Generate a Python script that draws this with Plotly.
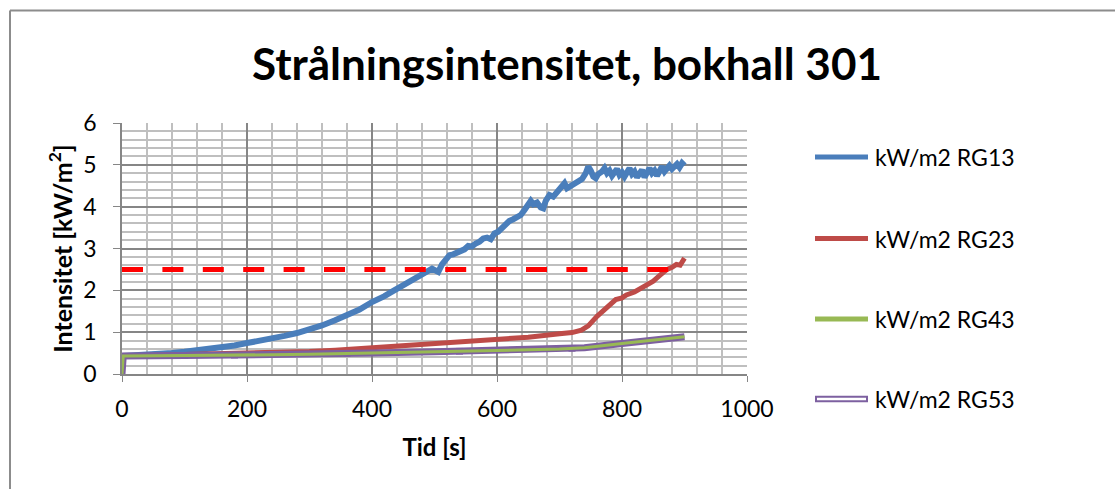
import plotly.graph_objects as go

# ---------------- data ----------------
t_rg13 = [0, 20, 40, 60, 80, 100, 120, 140, 160, 180, 200, 220, 240, 260, 280, 300,
          320, 340, 360, 380, 400, 410, 420, 430, 440, 450, 460, 470,
          480, 488, 496, 502, 506, 512, 518, 524, 530, 536, 542, 548, 554, 560, 566,
          572, 578, 584, 590, 596, 602, 608, 614, 620, 626, 632, 638, 644, 650, 654,
          658, 664, 670, 674, 678, 684, 690, 696, 702, 708, 712, 718, 724, 730, 736,
          742, 746, 750, 754, 758, 762, 768, 772, 776, 780, 784, 788, 792, 796, 800,
          804, 808, 812, 816, 820, 824, 828, 832, 836, 840, 844, 848, 852, 856, 860,
          864, 868, 872, 876, 880, 884, 888, 892, 896, 900]
v_rg13 = [0.43, 0.44, 0.45, 0.47, 0.50, 0.53, 0.56, 0.60, 0.64, 0.68, 0.74, 0.79, 0.85,
          0.91, 0.98, 1.06, 1.16, 1.28, 1.40, 1.54, 1.72, 1.78, 1.86, 1.95, 2.04, 2.10,
          2.20, 2.30,
          2.40, 2.47, 2.52, 2.47, 2.44, 2.62, 2.72, 2.84, 2.86, 2.90, 2.95, 2.98, 3.06,
          3.05, 3.12, 3.16, 3.24, 3.26, 3.22, 3.36, 3.40, 3.50, 3.56, 3.66, 3.70, 3.74,
          3.80, 3.92, 4.08, 4.14, 4.06, 4.10, 3.98, 3.96, 4.14, 4.28, 4.24, 4.34, 4.44,
          4.56, 4.44, 4.50, 4.58, 4.60, 4.66, 4.80, 4.96, 4.86, 4.72, 4.68, 4.78, 4.84,
          4.92, 4.80, 4.86, 4.74, 4.84, 4.90, 4.76, 4.82, 4.72, 4.86, 4.92, 4.78, 4.84,
          4.70, 4.82, 4.88, 4.70, 4.82, 4.92, 4.80, 4.86, 4.74, 4.90, 4.96, 4.84, 4.92,
          4.98, 4.90, 4.96, 5.02, 4.94, 5.04, 4.98]

t_rg23 = [0, 100, 200, 300, 341, 400, 450, 500, 550, 600, 650, 700, 720, 735, 746, 760,
          775, 790, 800, 807, 820, 829, 840, 850, 860, 871, 880, 887, 893, 900]
v_rg23 = [0.43, 0.46, 0.50, 0.54, 0.57, 0.63, 0.68, 0.72, 0.77, 0.82, 0.88, 0.96, 0.99,
          1.05, 1.15, 1.38, 1.60, 1.78, 1.82, 1.89, 1.96, 2.03, 2.12, 2.22, 2.35, 2.49,
          2.55, 2.62, 2.60, 2.77]

t_rg43 = [0, 2, 100, 180, 200, 300, 360, 400, 500, 540, 600, 700, 720, 740, 800, 850, 900]
v_rg43 = [0.0, 0.43, 0.44, 0.45, 0.45, 0.47, 0.49, 0.50, 0.53, 0.54, 0.56, 0.60, 0.61,
          0.63, 0.73, 0.81, 0.89]

t_rg53 = [0, 2, 100, 180, 200, 300, 360, 400, 500, 540, 600, 700, 720, 740, 800, 850, 900]
v_rg53 = [0.0, 0.43, 0.44, 0.45, 0.45, 0.47, 0.49, 0.50, 0.53, 0.54, 0.56, 0.60, 0.61,
          0.63, 0.73, 0.81, 0.89]
marker_times_rg53 = [180, 360, 540, 720]

limit_t = [0, 900]
limit_v = [2.5, 2.5]

names = ["kW/m2 RG13", "kW/m2 RG23", "kW/m2 RG43", "kW/m2 RG53"]
title_text = "Strålningsintensitet, bokhall 301"
x_title = "Tid [s]"
y_title = "Intensitet [kW/m<sup>2</sup>]"

# ---------------- style ----------------
BLUE = "#4A7EBB"
RED = "#BE4B48"
GREEN = "#98B954"
PURPLE = "#7D60A0"
FONT = "Lato"

W, H = 1115, 489
L, R, T, B = 122, 368, 123, 115
pw, ph = W - L - R, H - T - B


def px_x(p):
    return (p - L) / pw


def px_y(p):
    return (H - B - p) / ph


fig = go.Figure()

fig.add_trace(go.Scatter(x=t_rg13, y=v_rg13, mode="lines", name=names[0],
                         line=dict(color=BLUE, width=6)))
fig.add_trace(go.Scatter(x=t_rg23, y=v_rg23, mode="lines", name=names[1],
                         line=dict(color=RED, width=5)))
fig.add_trace(go.Scatter(x=limit_t, y=limit_v, mode="lines", name="limit",
                         line=dict(color="#FF0000", width=5, dash="21px,19.4px"),
                         hoverinfo="skip"))
msize = [7 if t in marker_times_rg53 else 0 for t in t_rg53]
fig.add_trace(go.Scatter(x=t_rg53, y=v_rg53, mode="lines+markers", name=names[3],
                         line=dict(color=PURPLE, width=7),
                         marker=dict(symbol="square", size=msize, color=PURPLE,
                                     line=dict(width=0))))
fig.add_trace(go.Scatter(x=t_rg43, y=v_rg43, mode="lines", name=names[2],
                         line=dict(color=GREEN, width=3)))

# manual legend (positions in pixels of the reference)
legend_colors = [BLUE, RED, GREEN, PURPLE]
legend_y = [157, 238.5, 319, 399]
shapes = []
annotations = []
for name, col, yy in zip(names, legend_colors, legend_y):
    shapes.append(dict(type="line", xref="paper", yref="paper",
                       x0=px_x(815), x1=px_x(868), y0=px_y(yy), y1=px_y(yy),
                       line=dict(color=col, width=5 if col != PURPLE else 6.5)))
    if col == PURPLE:
        shapes.append(dict(type="line", xref="paper", yref="paper",
                           x0=px_x(817), x1=px_x(866), y0=px_y(yy), y1=px_y(yy),
                           line=dict(color="white", width=2.5)))
    annotations.append(dict(text=name, xref="paper", yref="paper", x=px_x(873),
                            y=px_y(yy), xanchor="left", yanchor="middle", showarrow=False,
                            font=dict(family=FONT, size=23, color="black")))

# chart frame
shapes.append(dict(type="line", xref="paper", yref="paper", x0=px_x(10), x1=px_x(W + 5),
                   y0=px_y(10.5), y1=px_y(10.5), line=dict(color="#8C8C8C", width=2)))
shapes.append(dict(type="line", xref="paper", yref="paper", x0=px_x(10), x1=px_x(10),
                   y0=px_y(10.5), y1=px_y(H + 5), line=dict(color="#8C8C8C", width=2)))

fig.update_layout(
    width=W, height=H,
    margin=dict(l=L, r=R, t=T, b=B),
    paper_bgcolor="white", plot_bgcolor="white",
    font=dict(family=FONT, color="black", size=22),
    title=dict(text="<b>" + title_text + "</b>", x=567 / W, xanchor="center",
               y=1 - 65 / H, yanchor="middle", font=dict(family=FONT, size=44)),
    showlegend=False,
    xaxis=dict(range=[0, 1000], dtick=200, tick0=0, showgrid=True, gridcolor="#868686",
               gridwidth=1.5, zeroline=False, showline=True, linecolor="#868686",
               linewidth=1.5, ticks="outside", ticklen=6, tickcolor="#868686",
               tickfont=dict(size=23), ticklabelstandoff=8,
               minor=dict(dtick=40, showgrid=True, gridcolor="#BFBFBF", gridwidth=1.5),
               title=dict(text="<b>" + x_title + "</b>", font=dict(size=24), standoff=18)),
    yaxis=dict(range=[0, 6], dtick=1, tick0=0, showgrid=True, gridcolor="#868686",
               gridwidth=1.5, zeroline=False, showline=True, linecolor="#868686",
               linewidth=1.5, ticks="outside", ticklen=7, tickcolor="#868686",
               tickfont=dict(size=23), ticklabelstandoff=12,
               minor=dict(dtick=0.2, showgrid=True, gridcolor="#BFBFBF", gridwidth=1.5),
               title=dict(text="<b>" + y_title + "</b>", font=dict(size=25), standoff=4)),
    shapes=shapes,
    annotations=annotations,
)

fig.write_html("out.html", config={"displayModeBar": False},
               post_script="document.body.style.margin='0px';")
